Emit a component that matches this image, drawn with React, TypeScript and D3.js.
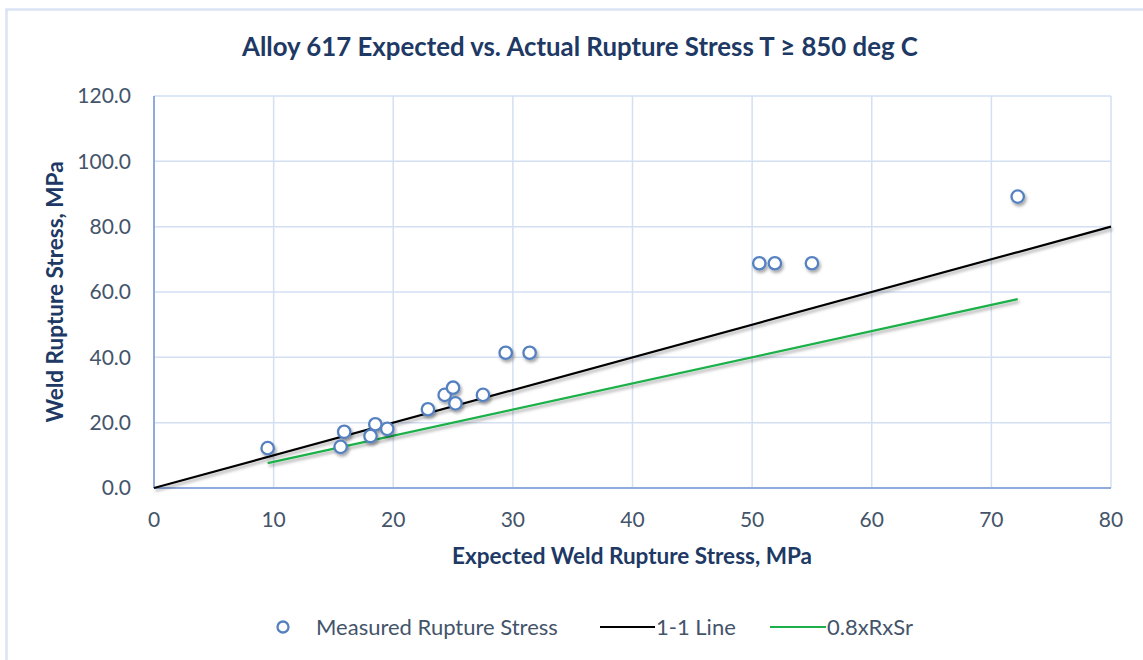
import React from "react";
import * as d3 from "d3";

// Expected vs. measured weld rupture stress, MPa
const expectedStress = [9.5, 15.9, 15.6, 18.5, 18.1, 19.5, 22.9, 24.3, 25.0, 25.2, 27.5, 29.4, 31.4, 50.6, 51.9, 55.0, 72.2];
const measuredStress = [12.2, 17.2, 12.6, 19.5, 15.9, 18.1, 24.1, 28.5, 30.7, 25.9, 28.5, 41.4, 41.4, 68.8, 68.8, 68.8, 89.2];

// Reference lines as endpoint lists
const oneToOneX = [0, 80];
const oneToOneY = [0, 80];
const reducedX = [9.5, 72.2];
const reducedY = [7.6, 57.8];

const xTicks = [0, 10, 20, 30, 40, 50, 60, 70, 80];
const yTicks = [0, 20, 40, 60, 80, 100, 120];

const W = 1143;
const H = 660;
const plot = { left: 154, right: 1111, top: 96, bottom: 488 };

const FONT = "Lato, 'Open Sans', sans-serif";
const TITLE_COLOR = "#203864";
const TICK_COLOR = "#44546A";

export default function App() {
  const x = d3.scaleLinear().domain([0, 80]).range([plot.left, plot.right]);
  const y = d3.scaleLinear().domain([0, 120]).range([plot.bottom, plot.top]);

  const line = d3
    .line<[number, number]>()
    .x((d) => x(d[0]))
    .y((d) => y(d[1]));

  const oneToOne = oneToOneX.map((v, i) => [v, oneToOneY[i]] as [number, number]);
  const reduced = reducedX.map((v, i) => [v, reducedY[i]] as [number, number]);
  const points = expectedStress.map((v, i) => [v, measuredStress[i]] as [number, number]);

  return (
    <div style={{ position: "absolute", left: 0, top: 0 }}>
      <svg width={W} height={H} style={{ display: "block", fontFamily: FONT }}>
        <defs>
          <filter id="shadow" x="-50%" y="-50%" width="200%" height="200%">
            <feDropShadow dx="1.5" dy="2.5" stdDeviation="1.5" floodColor="#000" floodOpacity="0.35" />
          </filter>
        </defs>
        <rect x={0} y={0} width={W} height={H} fill="#fff" />
        {/* chart frame */}
        <rect x={6.5} y={9.5} width={W + 20} height={H + 20} fill="none" stroke="#DAE3F3" strokeWidth={2.5} />

        <text x={580} y={56} textAnchor="middle" fontSize={25.8} fontWeight={700} fill={TITLE_COLOR}>
          Alloy 617 Expected vs. Actual Rupture Stress T ≥ 850 deg C
        </text>

        {/* gridlines */}
        {xTicks.filter((t) => t > 0).map((t) => (
          <line key={"gx" + t} x1={x(t)} x2={x(t)} y1={plot.top} y2={plot.bottom} stroke="#D3DFF2" strokeWidth={1.5} />
        ))}
        {yTicks.filter((t) => t > 0).map((t) => (
          <line key={"gy" + t} x1={plot.left} x2={plot.right} y1={y(t)} y2={y(t)} stroke="#D3DFF2" strokeWidth={1.5} />
        ))}
        {/* axis lines */}
        <line x1={plot.left} x2={plot.left} y1={plot.top} y2={plot.bottom} stroke="#8FAADC" strokeWidth={2} />
        <line x1={plot.left} x2={plot.right} y1={plot.bottom} y2={plot.bottom} stroke="#8FAADC" strokeWidth={2} />

        {/* tick labels */}
        {yTicks.map((t) => (
          <text key={"ty" + t} x={131} y={y(t)} dy="0.35em" textAnchor="end" fontSize={21} fill={TICK_COLOR}>
            {t.toFixed(1)}
          </text>
        ))}
        {xTicks.map((t) => (
          <text key={"tx" + t} x={x(t)} y={527} textAnchor="middle" fontSize={21} fill={TICK_COLOR}>
            {t}
          </text>
        ))}

        {/* axis titles */}
        <text x={632} y={564} textAnchor="middle" fontSize={22.5} fontWeight={700} fill={TITLE_COLOR}>
          Expected Weld Rupture Stress, MPa
        </text>
        <text transform={`translate(63,${292}) rotate(-90)`} textAnchor="middle" fontSize={22.5} fontWeight={700} fill={TITLE_COLOR}>
          Weld Rupture Stress, MPa
        </text>

        {/* reference lines */}
        <path d={line(oneToOne) || ""} fill="none" stroke="#000" strokeWidth={2.2} filter="url(#shadow)" />
        <path d={line(reduced) || ""} fill="none" stroke="#1DB04A" strokeWidth={2.2} filter="url(#shadow)" />

        {/* measured points */}
        <g filter="url(#shadow)">
          {points.map((p, i) => (
            <circle key={i} cx={x(p[0])} cy={y(p[1])} r={6.2} fill="#fff" stroke="#5581C1" strokeWidth={2.3} />
          ))}
        </g>

        {/* legend */}
        <g fontSize={22} fill={TICK_COLOR}>
          <circle cx={283} cy={627} r={5.5} fill="#fff" stroke="#5581C1" strokeWidth={2.3} />
          <text x={316} y={627} dy="0.35em">Measured Rupture Stress</text>
          <line x1={600} x2={655} y1={627} y2={627} stroke="#000" strokeWidth={2.2} />
          <text x={656} y={627} dy="0.35em">1-1 Line</text>
          <line x1={770} x2={826} y1={627} y2={627} stroke="#1DB04A" strokeWidth={2.2} />
          <text x={827} y={627} dy="0.35em">0.8xRxSr</text>
        </g>
      </svg>
    </div>
  );
}
